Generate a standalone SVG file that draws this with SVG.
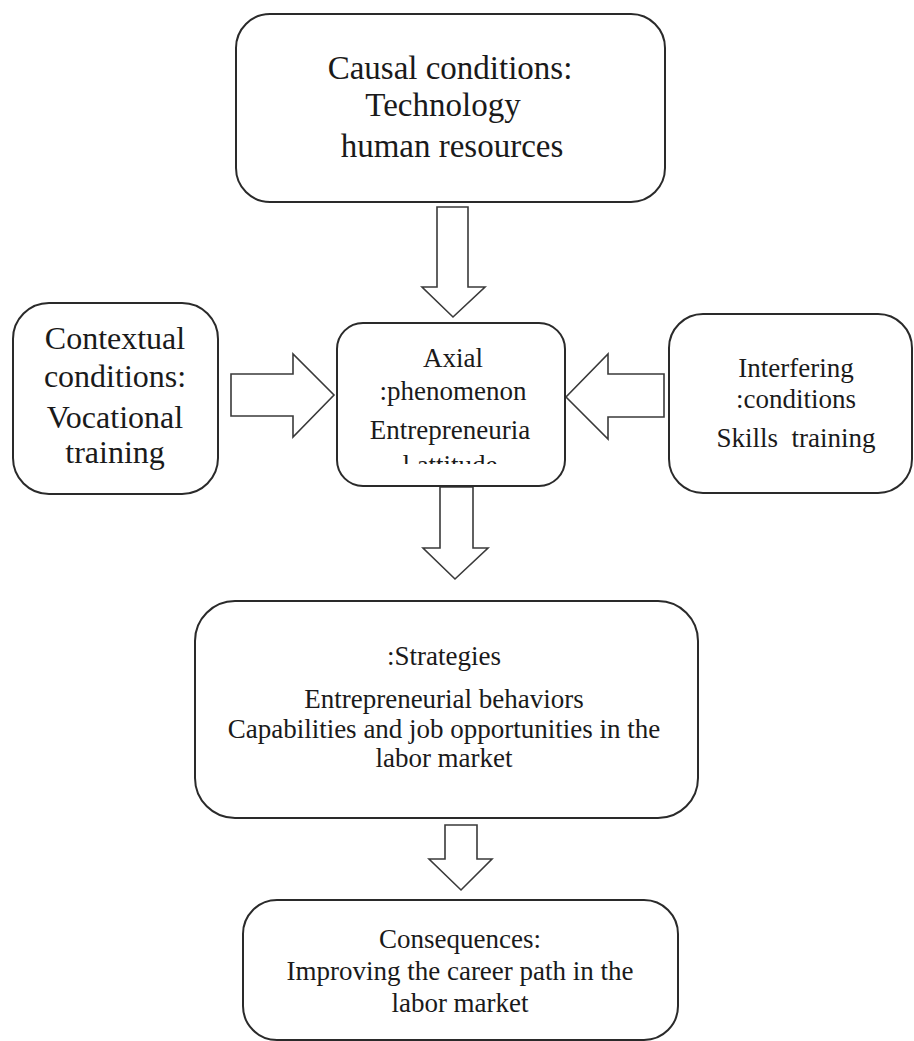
<svg xmlns="http://www.w3.org/2000/svg" width="914" height="1041" viewBox="0 0 914 1041">
  <style>
    .box { fill: #ffffff; stroke: #2a2a2a; stroke-width: 2; }
    .arrow { fill: #ffffff; stroke: #3a3a3a; stroke-width: 1.6; stroke-linejoin: miter; }
    text { font-family: "Liberation Serif", "Times New Roman", serif; fill: #1a1a1a; text-anchor: middle; }
    .t33 { font-size: 33px; }
    .t32 { font-size: 32px; }
    .t27 { font-size: 27px; }
  </style>
  <defs>
    <clipPath id="axialClip">
      <rect x="337" y="323" width="228" height="141"/>
    </clipPath>
  </defs>

  <!-- block arrows between the boxes -->
  <g id="connectors">
    <polygon class="arrow" points="437,207 468,207 468,287 485,287 453,317 422,287 437,287"/>
    <polygon class="arrow" points="231,374 293,374 293,354 334,395 293,437 293,416 231,416"/>
    <polygon class="arrow" points="664,374 608,374 608,354 566,397 608,439 608,417 664,417"/>
    <polygon class="arrow" points="440,487 473,487 473,548 488,548 455,579 423,548 440,548"/>
    <polygon class="arrow" points="445,825 477,825 477,859 492,859 461,890 429,859 445,859"/>
  </g>

  <g id="causal">
    <rect class="box" x="236" y="14" width="429" height="188" rx="34" ry="34"/>
    <text class="t33" x="450" y="79">Causal conditions:</text>
    <text class="t33" x="443" y="116">Technology</text>
    <text class="t33" x="452" y="157">human resources</text>
  </g>

  <g id="contextual">
    <rect class="box" x="13" y="303" width="205" height="191" rx="36" ry="36"/>
    <text class="t32" x="115" y="349">Contextual</text>
    <text class="t32" x="115" y="387">conditions:</text>
    <text class="t32" x="115" y="428">Vocational</text>
    <text class="t32" x="115" y="463">training</text>
  </g>

  <g id="axial">
    <rect class="box" x="337" y="323" width="228" height="163" rx="26" ry="26"/>
    <g clip-path="url(#axialClip)">
      <text class="t27" x="453" y="367">Axial</text>
      <text class="t27" x="453" y="400">:phenomenon</text>
      <text class="t27" x="450" y="439">Entrepreneuria</text>
      <text class="t27" x="450" y="474">l attitude</text>
    </g>
  </g>

  <g id="interfering">
    <rect class="box" x="669" y="314" width="243" height="179" rx="34" ry="34"/>
    <text class="t27" x="796" y="377">Interfering</text>
    <text class="t27" x="796" y="408">:conditions</text>
    <text class="t27" x="796" y="447" xml:space="preserve">Skills  training</text>
  </g>

  <g id="strategies">
    <rect class="box" x="195" y="601" width="503" height="217" rx="40" ry="40"/>
    <text class="t27" x="444" y="665">:Strategies</text>
    <text class="t27" x="444" y="708">Entrepreneurial behaviors</text>
    <text class="t27" x="444" y="738">Capabilities and job opportunities in the</text>
    <text class="t27" x="444" y="767">labor market</text>
  </g>

  <g id="consequences">
    <rect class="box" x="243" y="900" width="435" height="140" rx="34" ry="34"/>
    <text class="t27" x="460" y="948">Consequences:</text>
    <text class="t27" x="460" y="980">Improving the career path in the</text>
    <text class="t27" x="460" y="1012">labor market</text>
  </g>
</svg>
